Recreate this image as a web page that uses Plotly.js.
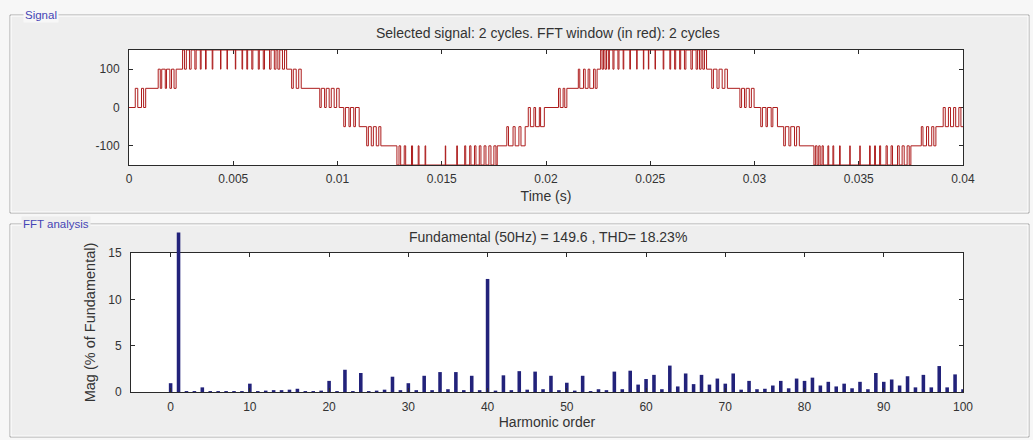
<!DOCTYPE html>
<html><head><meta charset="utf-8">
<script src="https://cdn.plot.ly/plotly-3.0.1.min.js"></script>
<style>html,body{margin:0;padding:0;background:#f7f7f7;} #chart{width:1033px;height:440px;}</style>
</head><body><div id="chart"></div>
<script>
// ---- Signal (time in ms, level in V) : switching instants ----
const signalTimeMs = [
 0, 0.30, 0.42, 0.60, 0.70, 0.80,
 1.40, 1.50, 1.57, 1.74, 1.80, 1.96, 2.04, 2.16, 2.26,
 2.57, 2.66, 2.75, 2.90, 2.98, 3.16, 3.22, 3.42, 3.46, 3.67, 3.70, 3.99, 4.02, 4.39, 4.41, 4.70, 4.72, 5.10, 5.12, 5.42, 5.45, 5.65, 5.69, 5.89, 5.94, 6.20, 6.25, 6.44, 6.50, 6.74, 6.81, 6.97, 7.05, 7.14, 7.23, 7.36, 7.46, 7.56,
 7.80, 7.88, 8.02, 8.14, 8.26,
 9.15, 9.22, 9.38, 9.46, 9.60, 9.70, 9.84, 9.96, 10.08,
 10.30, 10.38, 10.55, 10.62, 10.78, 10.86, 11.04,
 11.40, 11.48, 11.62, 11.72, 11.86, 11.98, 12.08,
 12.85, 12.95, 13.03, 13.20, 13.27, 13.55, 13.60, 13.87, 13.91, 14.20, 14.23, 15.17, 15.19, 15.72, 15.75, 16.10, 16.15, 16.34, 16.40, 16.57, 16.64, 16.80, 16.88, 17.03, 17.12, 17.26, 17.36, 17.50, 17.60, 17.66,
 18.12, 18.20, 18.42, 18.52, 18.70, 18.80, 19.00,
 19.15, 19.25, 19.42, 19.50, 19.68, 19.74, 19.92,
 20.60, 20.68, 20.82, 20.90, 21.00,
 21.55, 21.62, 21.80, 21.88, 22.02, 22.10, 22.28, 22.36, 22.45,
 22.62, 22.69, 22.76, 22.83, 22.90, 22.99, 23.04, 23.21, 23.26, 23.45, 23.50, 23.70, 23.73, 24.02, 24.05, 24.35, 24.37, 24.67, 24.69, 24.91, 24.93, 25.23, 25.25, 25.62, 25.65, 25.94, 25.98, 26.17, 26.22, 26.41, 26.46, 26.64, 26.71, 26.95, 27.02, 27.20, 27.27, 27.36, 27.44, 27.52, 27.60, 27.70,
 27.95, 28.03, 28.20, 28.30, 28.45, 28.58, 28.70,
 29.30, 29.38, 29.52, 29.60, 29.75, 29.85, 29.98,
 30.30, 30.38, 30.55, 30.62, 30.80, 30.88, 31.10,
 31.40, 31.48, 31.65, 31.74, 31.92, 32.02, 32.15,
 32.85, 32.92, 33.00, 33.08, 33.15, 33.24, 33.30, 33.52, 33.56, 33.76, 33.80, 34.08, 34.11, 34.57, 34.59, 35.05, 35.07, 35.52, 35.55, 35.76, 35.80, 36.00, 36.05, 36.31, 36.37, 36.55, 36.62, 36.86, 36.94, 37.08, 37.18, 37.32, 37.42, 37.50,
 38.00, 38.08, 38.25, 38.35, 38.50, 38.60, 38.70,
 39.05, 39.15, 39.30, 39.40, 39.55, 39.65, 39.80, 39.90, 40.00
];
const signalLevel = [
 0, 50, 0, 50, 0, 50,
 100, 50, 100, 50, 100, 50, 100, 50, 100,
 150, 100, 150, 100, 150, 100, 150, 100, 150, 100, 150, 100, 150, 100, 150, 100, 150, 100, 150, 100, 150, 100, 150, 100, 150, 100, 150, 100, 150, 100, 150, 100, 150, 100, 150, 100, 150, 100,
 50, 100, 50, 100, 50,
 0, 50, 0, 50, 0, 50, 0, 50, 0,
 -50, 0, -50, 0, -50, 0, -50,
 -100, -50, -100, -50, -100, -50, -100,
 -150, -100, -150, -100, -150, -100, -150, -100, -150, -100, -150, -100, -150, -100, -150, -100, -150, -100, -150, -100, -150, -100, -150, -100, -150, -100, -150, -100, -150, -100,
 -50, -100, -50, -100, -50, -100, -50,
 0, -50, 0, -50, 0, -50, 0,
 50, 0, 50, 0, 50,
 100, 50, 100, 50, 100, 50, 100, 50, 100,
 150, 100, 150, 100, 150, 100, 150, 100, 150, 100, 150, 100, 150, 100, 150, 100, 150, 100, 150, 100, 150, 100, 150, 100, 150, 100, 150, 100, 150, 100, 150, 100, 150, 100, 150, 100, 150, 100, 150, 100, 150, 100,
 50, 100, 50, 100, 50, 100, 50,
 0, 50, 0, 50, 0, 50, 0,
 -50, 0, -50, 0, -50, 0, -50,
 -100, -50, -100, -50, -100, -50, -100,
 -150, -100, -150, -100, -150, -100, -150, -100, -150, -100, -150, -100, -150, -100, -150, -100, -150, -100, -150, -100, -150, -100, -150, -100, -150, -100, -150, -100, -150, -100, -150, -100, -150, -100,
 -50, -100, -50, -100, -50, -100, -50,
 0, -50, 0, -50, 0, -50, 0, -50, -50
];
const timeTickVals = [0, 5, 10, 15, 20, 25, 30, 35, 40];
const timeTickLabels = ['0', '0.005', '0.01', '0.015', '0.02', '0.025', '0.03', '0.035', '0.04'];
const signalTickVals = [-100, 0, 100];
const signalTickLabels = ['-100', '0', '100'];

// ---- FFT spectrum (% of fundamental; the fundamental bar is drawn as far as it shows) ----
const harmonicOrder = [
 0,1,2,3,4,5,6,7,8,9,10,11,12,13,14,15,16,17,18,19,20,
 21,22,23,24,25,26,27,28,29,30,31,32,33,34,35,36,37,38,39,40,
 41,42,43,44,45,46,47,48,49,50,51,52,53,54,55,56,57,58,59,60,
 61,62,63,64,65,66,67,68,69,70,71,72,73,74,75,76,77,78,79,80,
 81,82,83,84,85,86,87,88,89,90,91,92,93,94,95,96,97,98,99,100
];
const harmonicMag = [
 0.95, 17.2, 0.1, 0.1, 0.5, 0.1, 0.1, 0.1, 0.1, 0.1, 0.9, 0.1, 0.15, 0.2, 0.2, 0.25, 0.35, 0.1, 0.1, 0.15, 1.2,
 0.1, 2.4, 0.1, 2.05, 0.1, 0.15, 0.25, 1.65, 0.2, 0.95, 0.2, 1.75, 0.2, 2.15, 0.3, 2.15, 0.2, 1.75, 0.2, 12.2,
 0.15, 1.8, 0.2, 2.25, 0.25, 2.2, 0.3, 1.75, 0.2, 1.0, 0.15, 1.75, 0.1, 0.3, 0.2, 2.2, 0.3, 2.3, 0.8, 1.4,
 1.85, 0.3, 2.85, 0.6, 2.0, 0.85, 1.85, 0.8, 1.45, 0.9, 2.0, 0.25, 1.2, 0.3, 0.35, 0.7, 1.2, 0.4, 1.45, 1.2,
 1.55, 0.7, 1.1, 0.6, 0.9, 0.4, 1.1, 0.3, 2.05, 1.1, 1.35, 0.7, 1.7, 0.5, 1.85, 0.5, 2.8, 0.5, 1.9, 0.3
];
const harmonicTickVals = [0, 10, 20, 30, 40, 50, 60, 70, 80, 90, 100];
const magTickVals = [0, 5, 10, 15];

const W = 1033, H = 440;
const px = v => v / W;
const py = v => 1 - v / H;
const FONT = 'Liberation Sans, Arial, sans-serif';
const TXT = '#333333';
const TITLE_SIZE = 14;

// plot-area pixel boxes
const SIG = {l: 129, r: 963, t: 50, b: 165};
const FFT = {l: 131, r: 963, t: 253, b: 392};
const FFT_OVER_TOP = 229;               // the fundamental bar runs past the axes box up to here
const MAG_MAX = 15;
const magPerPx = MAG_MAX / (FFT.b - FFT.t);
const overRangeTop = MAG_MAX + (FFT.t - FFT_OVER_TOP) * magPerPx;

const axisCommon = {
  showline: true, linecolor: '#2a2a2a', linewidth: 1, mirror: 'ticks',
  ticks: 'inside', ticklen: 4, tickcolor: '#2a2a2a', tickwidth: 1,
  showgrid: false, zeroline: false,
  tickfont: {family: FONT, size: 12, color: TXT},
  fixedrange: true
};

const barStyle = {width: 0.45, marker: {color: '#22227a', line: {width: 0}}, hoverinfo: 'skip'};

const traces = [
  {
    type: 'scatter', mode: 'lines', x: signalTimeMs, y: signalLevel,
    line: {shape: 'hv', color: '#ad1c1c', width: 1},
    xaxis: 'x', yaxis: 'y', hoverinfo: 'skip'
  },
  Object.assign({type: 'bar', x: harmonicOrder, y: harmonicMag, xaxis: 'x2', yaxis: 'y2'}, barStyle),
  // same bars, seen through a borderless strip just above the axes box (overflow of the fundamental)
  Object.assign({type: 'bar', x: harmonicOrder, y: harmonicMag, xaxis: 'x3', yaxis: 'y3'}, barStyle)
];

const panelFill = '#eeeeee';
const layout = {
  width: W, height: H,
  margin: {l: 0, r: 0, t: 0, b: 0},
  paper_bgcolor: '#f7f7f7', plot_bgcolor: 'rgba(0,0,0,0)',
  showlegend: false,
  font: {family: FONT, size: 12, color: TXT},
  xaxis: Object.assign({}, axisCommon, {
    domain: [px(SIG.l), px(SIG.r)], range: [0, 40], anchor: 'y',
    tickmode: 'array', tickvals: timeTickVals, ticktext: timeTickLabels,
    ticklabelstandoff: 3, layer: 'below traces',
    title: {text: 'Time (s)', font: {family: FONT, size: TITLE_SIZE, color: TXT}, standoff: 5}
  }),
  yaxis: Object.assign({}, axisCommon, {
    domain: [py(SIG.b), py(SIG.t)], range: [-150, 150], anchor: 'x',
    tickmode: 'array', tickvals: signalTickVals, ticktext: signalTickLabels,
    ticklabelstandoff: 6, layer: 'below traces'
  }),
  xaxis2: Object.assign({}, axisCommon, {
    domain: [px(FFT.l), px(FFT.r)], range: [-5, 100], anchor: 'y2',
    tickmode: 'array', tickvals: harmonicTickVals, ticklabelstandoff: 4,
    title: {text: 'Harmonic order', font: {family: FONT, size: TITLE_SIZE, color: TXT}, standoff: 3}
  }),
  yaxis2: Object.assign({}, axisCommon, {
    domain: [py(FFT.b), py(FFT.t)], range: [0, MAG_MAX], anchor: 'x2',
    tickmode: 'array', tickvals: magTickVals, ticklabelstandoff: 6,
    title: {text: 'Mag (% of Fundamental)', font: {family: FONT, size: 14.5, color: TXT}, standoff: 9}
  }),
  xaxis3: {domain: [px(FFT.l), px(FFT.r)], range: [-5, 100], anchor: 'y3', visible: false, fixedrange: true},
  yaxis3: {domain: [py(FFT.t), py(FFT_OVER_TOP)], range: [MAG_MAX, overRangeTop], anchor: 'x3', visible: false, fixedrange: true},
  shapes: [
    {type: 'rect', xref: 'paper', yref: 'paper', x0: px(10), x1: px(1029), y0: py(213), y1: py(15),
     line: {color: '#a9a9a9', width: 1}, fillcolor: panelFill, layer: 'below'},
    {type: 'rect', xref: 'paper', yref: 'paper', x0: px(11), x1: px(1028), y0: py(212), y1: py(16),
     line: {color: '#ffffff', width: 1}, fillcolor: 'rgba(0,0,0,0)', layer: 'below'},
    {type: 'rect', xref: 'paper', yref: 'paper', x0: px(10), x1: px(1029), y0: py(437), y1: py(224),
     line: {color: '#a9a9a9', width: 1}, fillcolor: panelFill, layer: 'below'},
    {type: 'rect', xref: 'paper', yref: 'paper', x0: px(11), x1: px(1028), y0: py(436), y1: py(225),
     line: {color: '#ffffff', width: 1}, fillcolor: 'rgba(0,0,0,0)', layer: 'below'},
    // white axes backgrounds
    {type: 'rect', xref: 'paper', yref: 'paper', x0: px(SIG.l), x1: px(SIG.r), y0: py(SIG.b), y1: py(SIG.t),
     line: {width: 0}, fillcolor: '#ffffff', layer: 'below'},
    {type: 'rect', xref: 'paper', yref: 'paper', x0: px(FFT.l), x1: px(FFT.r), y0: py(FFT.b), y1: py(FFT.t),
     line: {width: 0}, fillcolor: '#ffffff', layer: 'below'}
  ],
  annotations: [
    {text: 'Selected signal: 2 cycles. FFT window (in red): 2 cycles', xref: 'paper', yref: 'paper',
     x: px(548), y: py(33), xanchor: 'center', yanchor: 'middle', showarrow: false,
     font: {family: FONT, size: TITLE_SIZE, color: TXT}},
    {text: 'Fundamental (50Hz) = 149.6 , THD= 18.23%', xref: 'paper', yref: 'paper',
     x: px(548), y: py(237), xanchor: 'center', yanchor: 'middle', showarrow: false,
     font: {family: FONT, size: TITLE_SIZE, color: TXT}},
    {text: 'Signal', xref: 'paper', yref: 'paper', x: px(23), y: py(15), xanchor: 'left', yanchor: 'middle',
     showarrow: false, bgcolor: '#f7f7f7', borderpad: 1, font: {family: FONT, size: 11.5, color: '#4545b5'}},
    {text: 'FFT analysis', xref: 'paper', yref: 'paper', x: px(21), y: py(224), xanchor: 'left', yanchor: 'middle',
     showarrow: false, bgcolor: '#eeeeee', borderpad: 1, font: {family: FONT, size: 11.5, color: '#4545b5'}}
  ]
};

Plotly.newPlot('chart', traces, layout, {displayModeBar: false, staticPlot: true});
</script>
</body></html>
